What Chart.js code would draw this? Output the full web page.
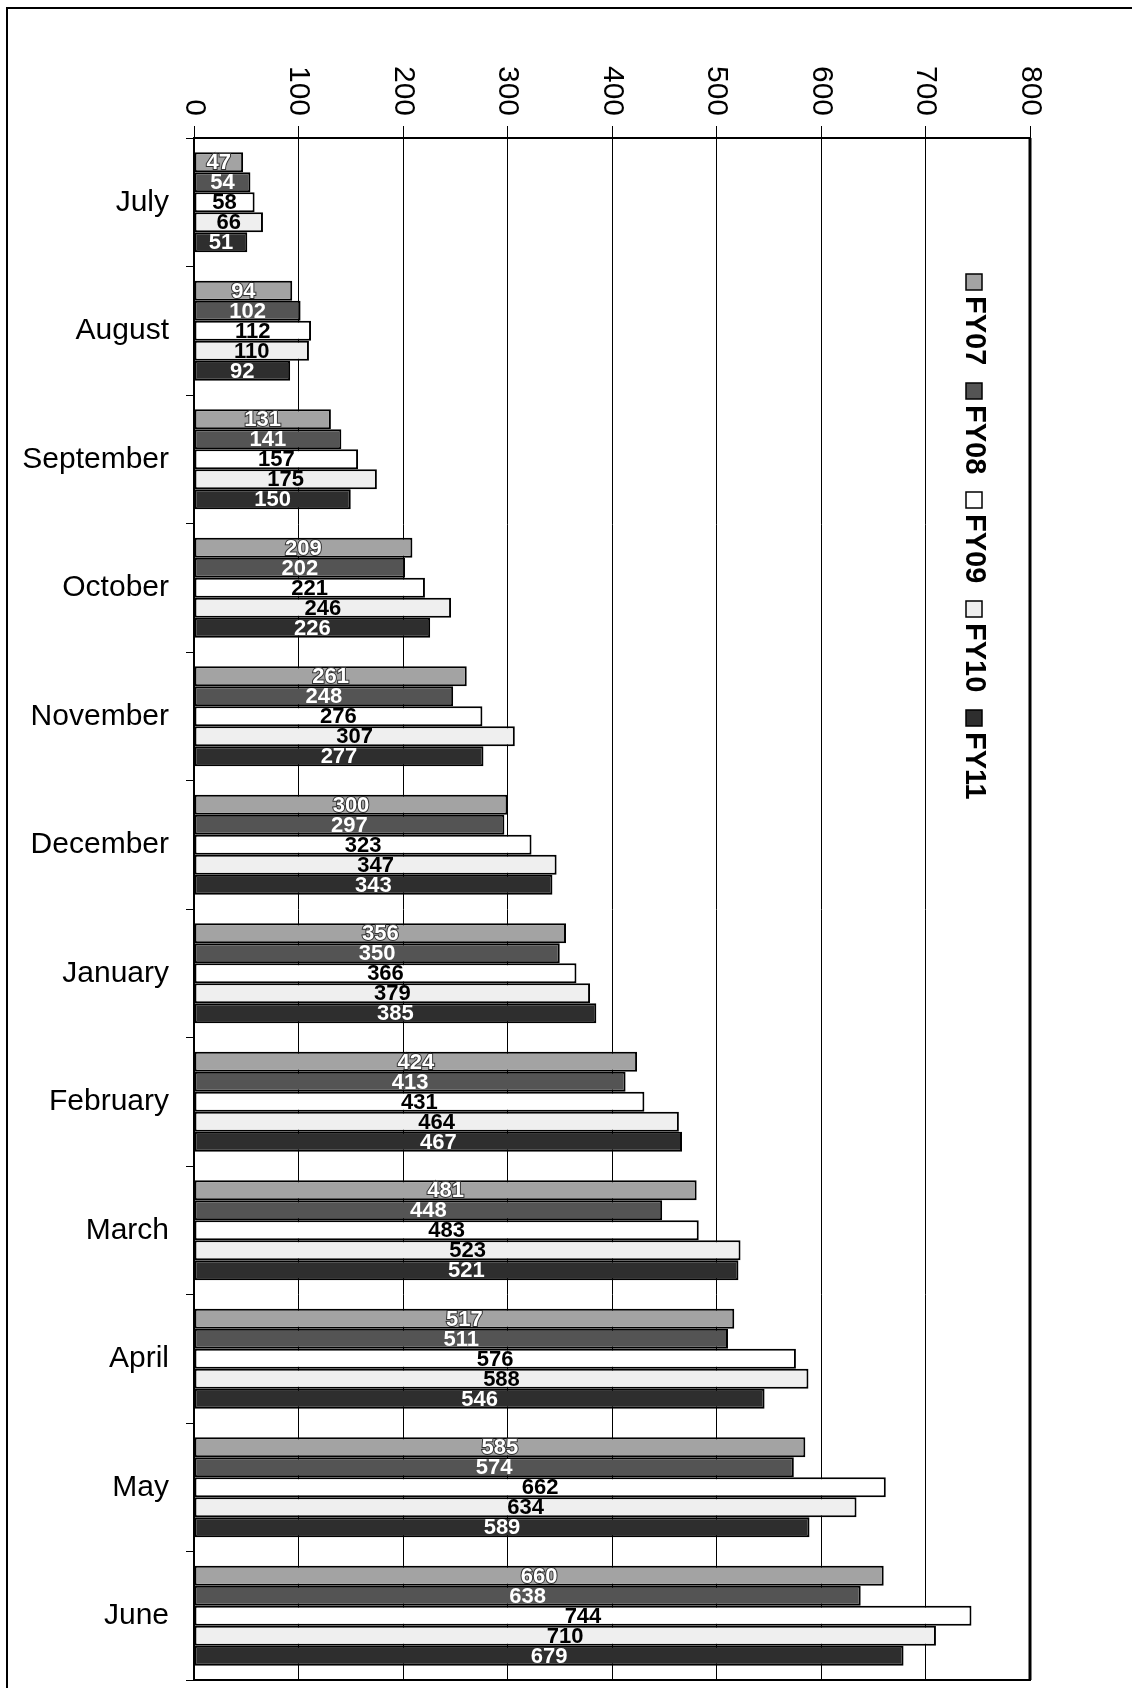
<!DOCTYPE html>
<html>
<head>
<meta charset="utf-8">
<script src="https://cdn.jsdelivr.net/npm/chart.js@4.4.1/dist/chart.umd.min.js"></script>
<style>
    html, body { margin: 0; padding: 0; background: #fff; }
    #wrap { width: 1132px; height: 1688px; }
</style>
</head>
<body>
<div id="wrap"><canvas id="chart" width="1132" height="1688"></canvas></div>
<script>
// Months of the fiscal year
const months = ['July', 'August', 'September', 'October', 'November', 'December',
    'January', 'February', 'March', 'April', 'May', 'June'];

// Cumulative values per fiscal year
const fy07 = [47, 94, 131, 209, 261, 300, 356, 424, 481, 517, 585, 660];
const fy08 = [54, 102, 141, 202, 248, 297, 350, 413, 448, 511, 574, 638];
const fy09 = [58, 112, 157, 221, 276, 323, 366, 431, 483, 576, 662, 744];
const fy10 = [66, 110, 175, 246, 307, 347, 379, 464, 523, 588, 634, 710];
const fy11 = [51, 92, 150, 226, 277, 343, 385, 467, 521, 546, 589, 679];

const seriesNames = ['FY07', 'FY08', 'FY09', 'FY10', 'FY11'];
const valueTicks = [0, 100, 200, 300, 400, 500, 600, 700, 800];

// Fill + label colors per series
const fills = ['#a3a3a3', '#545454', '#ffffff', '#efefef', '#2e2e2e'];
const labelColors = ['#ffffff', '#ffffff', '#000000', '#000000', '#ffffff'];

const baseFont = '"Liberation Sans", Arial, sans-serif';
const narrowFont = '"Liberation Sans Narrow", "Arial Narrow", "Liberation Sans", sans-serif';

const allSeries = [fy07, fy08, fy09, fy10, fy11];

const datasets = allSeries.map((values, i) => ({
    label: seriesNames[i],
    data: values,
    backgroundColor: fills[i],
    borderColor: '#000',
    borderWidth: 2,
    borderSkipped: false,
}));

// Frame around the page + border round the plot
const framePlugin = {
    id: 'frame',
    beforeDatasetsDraw(chart) {
        const { ctx, chartArea: a } = chart;
        ctx.save();
        ctx.strokeStyle = '#000';
        ctx.lineWidth = 2;
        ctx.beginPath();
        ctx.moveTo(7, 1688);
        ctx.lineTo(7, 8);
        ctx.lineTo(1132, 8);
        ctx.stroke();
        ctx.strokeRect(a.left, a.top, a.right - a.left, a.bottom - a.top);
        ctx.lineWidth = 3;
        ctx.beginPath();
        ctx.moveTo(a.right, a.top);
        ctx.lineTo(a.right, a.bottom);
        ctx.stroke();
        ctx.restore();
    },
};

// Value labels in the middle of each bar
const barLabelPlugin = {
    id: 'barLabels',
    afterDatasetsDraw(chart) {
        const { ctx } = chart;
        ctx.save();
        ctx.font = 'bold 22px ' + narrowFont;
        ctx.textAlign = 'center';
        ctx.textBaseline = 'middle';
        chart.data.datasets.forEach((ds, i) => {
            const meta = chart.getDatasetMeta(i);
            meta.data.forEach((bar, j) => {
                const x = (bar.x + bar.base) / 2;
                const y = bar.y + 1;
                const txt = String(ds.data[j]);
                if (i === 0) {
                    ctx.lineWidth = 2;
                    ctx.strokeStyle = '#333';
                    ctx.strokeText(txt, x, y);
                }
                ctx.fillStyle = labelColors[i];
                ctx.fillText(txt, x, y);
            });
        });
        ctx.restore();
    },
};

// Rotated value-axis labels and legend (read top to bottom)
const rotatedTextPlugin = {
    id: 'rotatedText',
    afterDraw(chart) {
        const { ctx } = chart;
        const xs = chart.scales.x;
        ctx.save();
        ctx.fillStyle = '#000';
        ctx.font = '30px ' + baseFont;
        ctx.textAlign = 'right';
        ctx.textBaseline = 'middle';
        valueTicks.forEach(v => {
            const px = xs.getPixelForValue(v);
            ctx.save();
            ctx.translate(px, 116);
            ctx.rotate(Math.PI / 2);
            ctx.fillText(String(v), 0, 0);
            ctx.restore();
        });

        // legend
        let y = 274;
        const cx = 974;
        ctx.font = 'bold 29px ' + baseFont;
        ctx.textAlign = 'left';
        chart.data.datasets.forEach((ds, i) => {
            ctx.fillStyle = fills[i];
            ctx.fillRect(cx - 8, y, 16, 16);
            ctx.strokeStyle = '#000';
            ctx.lineWidth = 1.5;
            ctx.strokeRect(cx - 8, y, 16, 16);
            ctx.save();
            ctx.translate(cx, y + 22);
            ctx.rotate(Math.PI / 2);
            ctx.fillStyle = '#000';
            ctx.fillText(ds.label, 0, 0);
            ctx.restore();
            y += 109;
        });
        ctx.restore();
    },
};

new Chart(document.getElementById('chart'), {
    type: 'bar',
    data: { labels: months, datasets },
    options: {
        indexAxis: 'y',
        responsive: false,
        animation: false,
        layout: { padding: { left: 0, right: 102, top: 0, bottom: 8 } },
        datasets: {
            bar: { categoryPercentage: 0.78, barPercentage: 1.0 },
        },
        plugins: {
            legend: { display: false },
            tooltip: { enabled: false },
        },
        scales: {
            x: {
                position: 'top',
                min: 0,
                max: 800,
                afterBuildTicks: (s) => { s.ticks = valueTicks.map(v => ({ value: v })); },
                ticks: { display: false },
                grid: { color: '#000', lineWidth: 1, tickLength: 12 },
                border: { display: true, color: '#000', width: 2 },
                afterFit: (s) => { s.height = 138; s.paddingLeft = 0; s.paddingRight = 0; },
            },
            y: {
                ticks: {
                    color: '#000',
                    padding: 17,
                    font: { family: baseFont, size: 30 },
                },
                grid: { offset: true, drawOnChartArea: false, tickLength: 8, color: '#000', lineWidth: 1 },
                border: { display: true, color: '#000', width: 2 },
                afterFit: (s) => { s.width = 194; s.paddingTop = 0; s.paddingBottom = 0; },
            },
        },
    },
    plugins: [framePlugin, barLabelPlugin, rotatedTextPlugin],
});
</script>
</body>
</html>
